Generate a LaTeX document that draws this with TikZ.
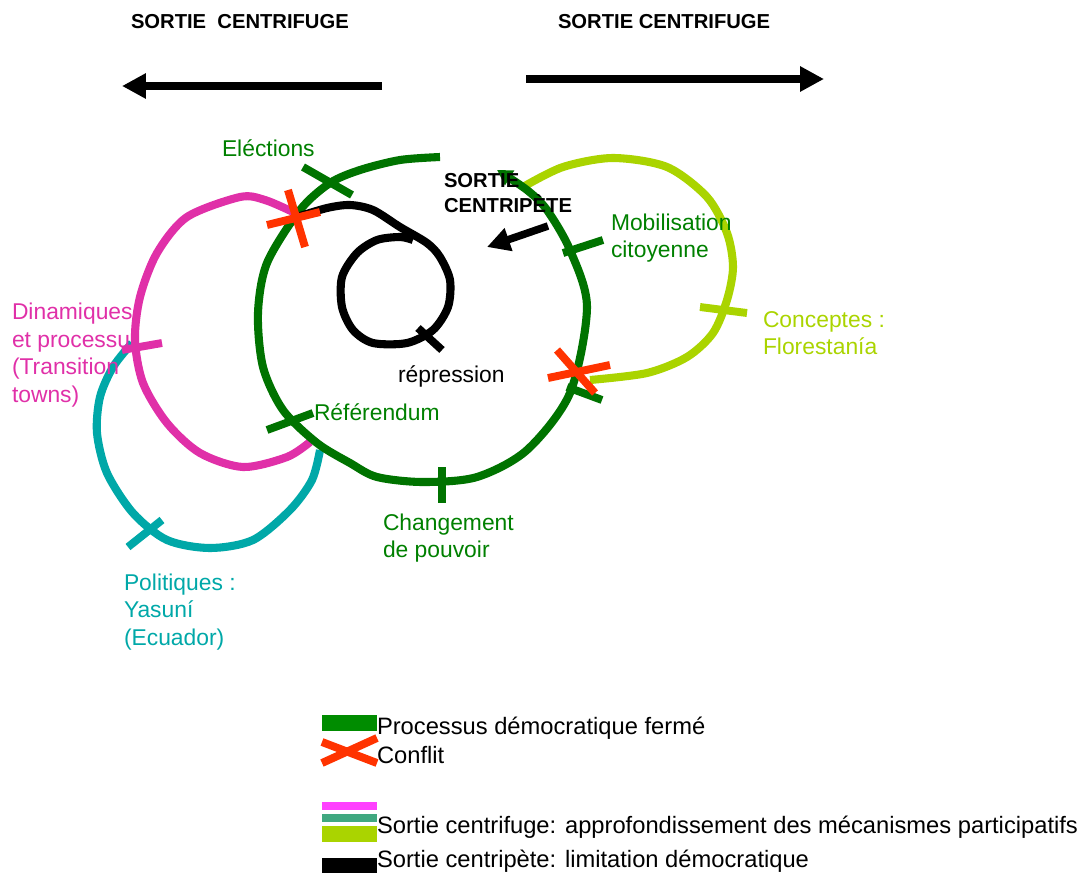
\documentclass[tikz,border=0pt]{standalone}
\usepackage{fontspec}
\setmainfont{Liberation Sans}
\usetikzlibrary{arrows.meta}
\definecolor{loopgreen}{RGB}{0,115,0}
\definecolor{labgreen}{RGB}{0,128,0}
\definecolor{leggreen}{RGB}{0,140,0}
\definecolor{magloop}{RGB}{224,48,168}
\definecolor{tealloop}{RGB}{0,168,168}
\definecolor{limeloop}{RGB}{170,212,0}
\definecolor{conflit}{RGB}{255,51,0}
\definecolor{legmag}{RGB}{255,64,255}
\definecolor{legteal}{RGB}{64,168,128}
\begin{document}
\begin{tikzpicture}[x=0.02cm,y=-0.02cm,
    every node/.style={inner sep=0pt,outer sep=0pt},
    lbl/.style={anchor=west,align=left,font=\fontsize{13}{15.6}\selectfont},
    ttl/.style={anchor=west,font=\fontsize{11.5}{14.2}\selectfont\bfseries},
    legtxt/.style={anchor=base west,font=\fontsize{13.5}{16}\selectfont},
    loopline/.style={line width=4.6pt,line join=round},
    tick/.style={line width=4.5pt},
    cross/.style={line width=4.5pt,draw=conflit},
    bigarrow/.style={line width=4.3pt,-{Triangle[length=13.6pt,width=13.6pt]}}]
  \useasboundingbox (0,0) rectangle (1089,873);
  % titles and outward arrows
  \node[ttl] (titleL) at (131,22) {SORTIE\ \ CENTRIFUGE};
  \node[ttl] (titleR) at (558,22) {SORTIE CENTRIFUGE};
  \coordinate (fugeL1) at (382,86);
  \coordinate (fugeL2) at (122,86);
  \coordinate (fugeR1) at (526,79);
  \coordinate (fugeR2) at (824,79);
  \draw[bigarrow] (fugeL1) -- (fugeL2);
  \draw[bigarrow] (fugeR1) -- (fugeR2);
  % loops
  \draw[loopline,tealloop] plot[smooth] coordinates {(132,343) (113,367) (100,397) (97,433) (107,473) (133,513) (167,540) (210,548) (253,540) (290,510) (312,480) (320,450)};
  \draw[loopline,magloop] plot[smooth] coordinates {(293,212) (265,200) (240,197) (187,217) (157,253) (140,297) (135,340) (143,383) (167,423) (200,453) (243,467) (287,457) (310,442)};
  \draw[loopline,limeloop] plot[smooth] coordinates {(523,187) (563,167) (613,158) (667,167) (707,197) (727,233) (733,267) (727,300) (713,333) (687,357) (647,373) (590,380)};
  \draw[loopline,loopgreen,-{Triangle[length=8.5pt,width=9.5pt]}] plot[smooth] coordinates {(440,157) (400,160) (360,170) (330,183) (300,210) (267,263) (258,313) (263,367) (283,410) (317,443) (350,463) (377,477) (423,482) (477,477) (527,450) (570,393) (587,307) (570,250) (547,210) (527,190) (497,170)};
  \draw[loopline,black] plot[smooth] coordinates {(297,217) (327,208) (350,205) (373,210) (400,227) (427,243) (440,257) (450,280) (448,307) (433,330) (407,343) (373,343) (353,330) (342,307) (342,277) (357,253) (377,240) (400,237) (413,240)};
  % ticks
  \draw[tick,loopgreen] (303,167) -- (352,195);
  \draw[tick,loopgreen] (563,253) -- (603,240);
  \draw[tick,loopgreen] (267,430) -- (313,413);
  \draw[tick,loopgreen] (442,467) -- (442,503);
  \draw[tick,loopgreen] (567,387) -- (602,400);
  \draw[tick,magloop] (122,350) -- (162,343);
  \draw[tick,tealloop] (128,547) -- (162,520);
  \draw[tick,limeloop] (700,307) -- (747,313);
  \draw[tick,black] (418,328) -- (442,350);
  % conflicts
  \draw[cross] (267,225) -- (320,212);
  \draw[cross] (288,190) -- (305,247);
  \draw[cross] (548,378) -- (610,365);
  \draw[cross] (557,350) -- (595,393);
  % inward arrow
  \coordinate (petA) at (548,226);
  \coordinate (petB) at (487,247);
  \draw[line width=4.3pt,-{Triangle[length=13pt,width=13pt]}] (petA) -- (petB);
  % labels
  \node[lbl,labgreen] (elections) at (222,148) {Eléctions};
  \node[anchor=west,align=left,font=\fontsize{11.5}{14.2}\selectfont\bfseries] (centripete) at (444,193) {SORTIE\\CENTRIPÈTE};
  \node[lbl,labgreen] (mobilisation) at (611,238) {Mobilisation\\citoyenne};
  \node[lbl,limeloop] (conceptes) at (763,333) {Conceptes :\\Florestanía};
  \node[lbl,magloop] (dinamiques) at (12,355) {Dinamiques\\et processu\\(Transition\\towns)};
  \node[lbl] (repression) at (398,376) {répression};
  \node[lbl,labgreen] (referendum) at (314,412) {Référendum};
  \node[lbl,labgreen] (changement) at (383,538) {Changement\\de pouvoir};
  \node[lbl,tealloop] (politiques) at (124,612) {Politiques :\\Yasuní\\(Ecuador)};
  % legend
  \fill[leggreen] (322,715) rectangle (377,731);
  \draw[line width=4.5pt,conflit] (322,763) -- (377,738);
  \draw[line width=4.5pt,conflit] (322,742) -- (377,763);
  \fill[legmag] (322,802) rectangle (377,810);
  \fill[legteal] (322,814) rectangle (377,822);
  \fill[limeloop] (322,826) rectangle (377,842);
  \fill[black] (322,858) rectangle (377,873);
  \node[legtxt] (legferme) at (377,734) {Processus démocratique fermé};
  \node[legtxt] (legconflit) at (377,763) {Conflit};
  \node[legtxt] (legfuge) at (377,833) {Sortie centrifuge: approfondissement des mécanismes participatifs};
  \node[legtxt] (legpete) at (377,867) {Sortie centripète: limitation démocratique};
\end{tikzpicture}
\end{document}
